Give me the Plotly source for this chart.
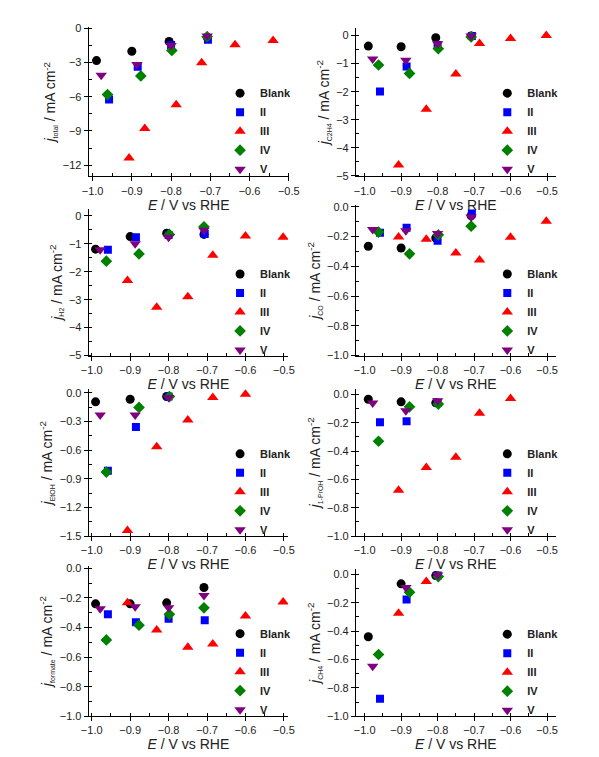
import plotly.graph_objects as go

# ---------------- data ----------------
series_names = ["Blank", "II", "III", "IV", "V"]

E_blank = [-0.99, -0.90, -0.805, -0.708]
E_II = [-0.958, -0.885, -0.80, -0.706]
E_III = [-0.907, -0.831, -0.75, -0.685, -0.60, -0.502]
E_III_total = [-0.907, -0.867, -0.787, -0.722, -0.637, -0.54]
E_IV = [-0.962, -0.877, -0.798, -0.708]
E_V = [-0.978, -0.887, -0.80, -0.708]

# total
J_total_blank = [-2.82, -2.0, -1.15, -0.78]
J_total_II = [-6.24, -3.37, -1.45, -1.0]
J_total_III = [-11.37, -8.78, -6.7, -3.02, -1.44, -1.06]
J_total_IV = [-5.81, -4.17, -1.93, -0.72]
J_total_V = [-4.12, -3.17, -1.5, -0.66]

# C2H4
J_C2H4_blank = [-0.375, -0.40, -0.08, -0.02]
J_C2H4_II = [-1.99, -1.10, -0.34, -0.02]
J_C2H4_III = [-4.61, -2.63, -1.37, -0.28, -0.105, 0.0]
J_C2H4_IV = [-1.05, -1.35, -0.47, -0.05]
J_C2H4_V = [-0.84, -0.88, -0.29, -0.02]

# H2
J_H2_blank = [-1.19, -0.74, -0.62, -0.66]
J_H2_II = [-1.21, -0.76, -0.68, -0.65]
J_H2_III = [-2.31, -3.27, -2.89, -1.41, -0.72, -0.76]
J_H2_IV = [-1.62, -1.36, -0.66, -0.39]
J_H2_V = [-1.21, -1.0, -0.76, -0.51]

# CO
J_CO_blank = [-0.265, -0.277, -0.21, -0.06]
J_CO_II = [-0.175, -0.14, -0.228, -0.045]
J_CO_III = [-0.203, -0.218, -0.31, -0.357, -0.205, -0.097]
J_CO_IV = [-0.17, -0.316, -0.188, -0.13]
J_CO_V = [-0.152, -0.16, -0.18, -0.068]

# EtOH
J_EtOH_blank = [-0.096, -0.069, -0.04, None]
J_EtOH_II = [-0.817, -0.36, -0.041, None]
J_EtOH_III = [-1.44, -0.566, -0.285, -0.051, -0.017, None]
J_EtOH_IV = [-0.83, -0.154, -0.041, None]
J_EtOH_V = [-0.233, -0.233, -0.051, None]

# 1-PrOH
J_PrOH_blank = [-0.035, -0.053, -0.06, None]
J_PrOH_II = [-0.197, -0.19, -0.06, None]
J_PrOH_III = [-0.676, -0.516, -0.444, -0.134, -0.03, None]
J_PrOH_IV = [-0.331, -0.088, -0.069, None]
J_PrOH_V = [-0.062, -0.116, -0.046, None]

# formate
J_formate_blank = [-0.24, -0.24, -0.233, -0.129]
J_formate_II = [-0.311, -0.365, -0.34, -0.351]
J_formate_III = [-0.233, -0.416, -0.533, -0.511, -0.322, -0.227]
J_formate_IV = [-0.484, -0.384, -0.311, -0.267]
J_formate_V = [-0.273, -0.26, -0.267, -0.184]

# CH4
J_CH4_blank = [-0.44, -0.067, -0.009, None]
J_CH4_II = [-0.877, -0.178, -0.009, None]
J_CH4_III = [-0.275, -0.051, None, None, None, None]
J_CH4_IV = [-0.565, -0.127, -0.016, None]
J_CH4_V = [-0.648, -0.093, -0.005, None]

y_titles = ["total", "C2H4", "H2", "CO", "EtOH", "1-PrOH", "formate", "CH4"]

# ---------------- styling ----------------
W, H = 599, 757
FONT = "Liberation Sans, Arial, sans-serif"
colors = ["#000000", "#0000FF", "#FF0000", "#008000", "#800080"]
symbols = ["circle", "square", "triangle-up", "diamond", "triangle-down"]
sizes = [9, 8, 10, 9, 10]

panel_data = [
    ([E_blank, E_II, E_III_total, E_IV, E_V],
     [J_total_blank, J_total_II, J_total_III, J_total_IV, J_total_V]),
    ([E_blank, E_II, E_III, E_IV, E_V],
     [J_C2H4_blank, J_C2H4_II, J_C2H4_III, J_C2H4_IV, J_C2H4_V]),
    ([E_blank, E_II, E_III, E_IV, E_V],
     [J_H2_blank, J_H2_II, J_H2_III, J_H2_IV, J_H2_V]),
    ([E_blank, E_II, E_III, E_IV, E_V],
     [J_CO_blank, J_CO_II, J_CO_III, J_CO_IV, J_CO_V]),
    ([E_blank, E_II, E_III, E_IV, E_V],
     [J_EtOH_blank, J_EtOH_II, J_EtOH_III, J_EtOH_IV, J_EtOH_V]),
    ([E_blank, E_II, E_III, E_IV, E_V],
     [J_PrOH_blank, J_PrOH_II, J_PrOH_III, J_PrOH_IV, J_PrOH_V]),
    ([E_blank, E_II, E_III, E_IV, E_V],
     [J_formate_blank, J_formate_II, J_formate_III, J_formate_IV, J_formate_V]),
    ([E_blank, E_II, E_III, E_IV, E_V],
     [J_CH4_blank, J_CH4_II, J_CH4_III, J_CH4_IV, J_CH4_V]),
]

LX = (83.3, 290.0)
LX2 = (83.3, 289.3)
RX = (359.3, 565.7)
specs = [
    dict(xd=LX, yd=(22.3, 174.0), xr=[-1.01, -0.5], yr=[-13.0, 0.13], dt=3, fmt="d", leg=(219, 128)),
    dict(xd=RX, yd=(23.3, 174.0), xr=[-1.024, -0.476], yr=[-5.02, 0.27], dt=1, fmt="d", leg=(495, 128)),
    dict(xd=LX2, yd=(206.7, 355.7), xr=[-1.008, -0.489], yr=[-5.0, 0.26], dt=1, fmt="d", leg=(219, 311.5)),
    dict(xd=RX, yd=(203.3, 355.7), xr=[-1.024, -0.476], yr=[-1.0, 0.01], dt=0.2, fmt=".1f", leg=(495, 311.5)),
    dict(xd=LX2, yd=(390.0, 539.0), xr=[-1.008, -0.489], yr=[-1.5, 0.035], dt=0.3, fmt=".1f", leg=(219, 494)),
    dict(xd=RX, yd=(389.3, 539.0), xr=[-1.024, -0.476], yr=[-1.0, 0.04], dt=0.2, fmt=".1f", leg=(495, 494)),
    dict(xd=LX2, yd=(569.3, 721.7), xr=[-1.008, -0.489], yr=[-1.0, 0.016], dt=0.2, fmt=".1f", leg=(219, 676.5)),
    dict(xd=RX, yd=(572.7, 721.7), xr=[-1.024, -0.476], yr=[-1.0, 0.035], dt=0.2, fmt=".1f", leg=(495, 677)),
]

fig = go.Figure()
layout = dict(
    width=W, height=H,
    margin=dict(l=0, r=0, t=0, b=0),
    paper_bgcolor="white", plot_bgcolor="white",
    font=dict(family=FONT, color="#222222"),
)

for i, (sp, (xs, ys)) in enumerate(zip(specs, panel_data)):
    n = i + 1
    xa = "x" if n == 1 else f"x{n}"
    ya = "y" if n == 1 else f"y{n}"
    lg = "legend" if n == 1 else f"legend{n}"
    for k in range(5):
        fig.add_trace(go.Scatter(
            x=xs[k], y=ys[k], mode="markers", name=series_names[k],
            marker=dict(symbol=symbols[k], size=sizes[k], color=colors[k], line=dict(width=0)),
            xaxis=xa, yaxis=ya, legend=lg, showlegend=True,
        ))
    xd = [sp["xd"][0] / W, sp["xd"][1] / W]
    yd = [1 - sp["yd"][1] / H, 1 - sp["yd"][0] / H]
    axis_common = dict(
        showline=True, linecolor="black", linewidth=1, mirror=False,
        showgrid=False, zeroline=False,
        ticks="outside", ticklen=4, tickwidth=1, tickcolor="black",
        tickfont=dict(size=11, family=FONT, color="#222222"),
    )
    layout["xaxis" if n == 1 else f"xaxis{n}"] = dict(
        axis_common, domain=xd, range=sp["xr"], anchor=ya,
        dtick=0.1, tick0=-1.0, tickformat=".1f",
        minor=dict(dtick=0.05, ticks="inside", ticklen=3, tickcolor="black"),
        title=dict(text="<i>E</i> / V vs RHE", font=dict(size=14, family=FONT, color="#222222"), standoff=1),
    )
    sub = y_titles[i]
    layout["yaxis" if n == 1 else f"yaxis{n}"] = dict(
        axis_common, domain=yd, range=sp["yr"], anchor=xa,
        dtick=sp["dt"], tick0=0, tickformat=sp["fmt"],
        minor=dict(dtick=sp["dt"] / 2, ticks="inside", ticklen=3, tickcolor="black"),
        title=dict(
            text=f"<i>j</i><sub><span style='font-size:7px'>{sub}</span></sub> / mA cm<sup>-2</sup>",
            font=dict(size=14, family=FONT, color="#222222"), standoff=3),
    )
    lx, lyc = sp["leg"]
    layout[lg] = dict(
        x=lx / W, y=1 - lyc / H, xanchor="left", yanchor="middle",
        bgcolor="rgba(0,0,0,0)", borderwidth=0,
        font=dict(size=11, family=FONT, color="#222222", weight="bold"),
        itemwidth=30, tracegroupgap=0,
    )

fig.update_layout(**layout)
fig.write_html(
    "out.html",
    config={"displayModeBar": False},
    post_script="document.body.style.margin='0';document.body.style.padding='0';",
)
